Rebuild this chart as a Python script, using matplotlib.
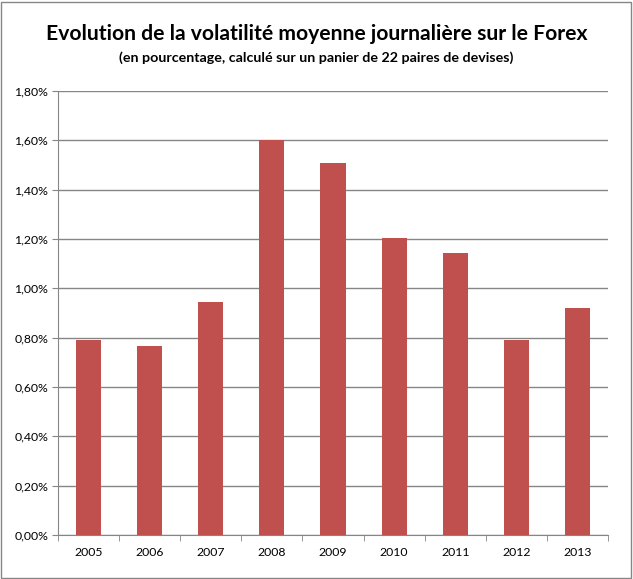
import matplotlib.pyplot as plt
from matplotlib.patches import Rectangle
import numpy as np

years = ['2005', '2006', '2007', '2008', '2009', '2010', '2011', '2012', '2013']
volatility = [0.79, 0.765, 0.944, 1.60, 1.507, 1.205, 1.145, 0.79, 0.92]
y_ticks = np.arange(0, 1.81, 0.2)

plt.rcParams['font.family'] = ['Lato', 'DejaVu Sans']

fig = plt.figure(figsize=(6.33, 5.79), dpi=100)
ax = fig.add_axes([0.0916, 0.076, 0.869, 0.7668])

x = np.arange(len(years))
ax.bar(x, volatility, width=0.41, color='#C0504D', zorder=3)

ax.set_xlim(-0.5, len(years) - 0.5)
ax.set_ylim(0, 1.8)
ax.set_yticks(y_ticks)
ax.set_yticklabels([f"{v:.2f}%".replace('.', ',') for v in y_ticks], fontsize=8.8)
ax.set_xticks(x)
ax.set_xticklabels(years, fontsize=8.8)
ax.set_xticks(np.arange(-0.5, len(years)), minor=True)
ax.tick_params(axis='x', which='major', length=0, pad=9)
ax.tick_params(axis='x', which='minor', length=4, color='#868686')
ax.tick_params(axis='y', length=4, color='#868686', pad=3)

ax.grid(axis='y', color='#868686', linewidth=1, zorder=0)
for s in ['top', 'right']:
    ax.spines[s].set_visible(False)
for s in ['left', 'bottom']:
    ax.spines[s].set_color('#868686')

fig.text(0.5, 0.941, "Evolution de la volatilité moyenne journalière sur le Forex",
         ha='center', va='center', fontsize=15.2, fontweight='bold')
fig.text(0.5, 0.9, "(en pourcentage, calculé sur un panier de 22 paires de devises)",
         ha='center', va='center', fontsize=10.3, fontweight='bold')

fig.patches.append(Rectangle((0.001, 0.002), 0.996, 0.995, transform=fig.transFigure,
                             fill=False, edgecolor='#868686', linewidth=1))

fig.savefig('out.png', dpi=100)
